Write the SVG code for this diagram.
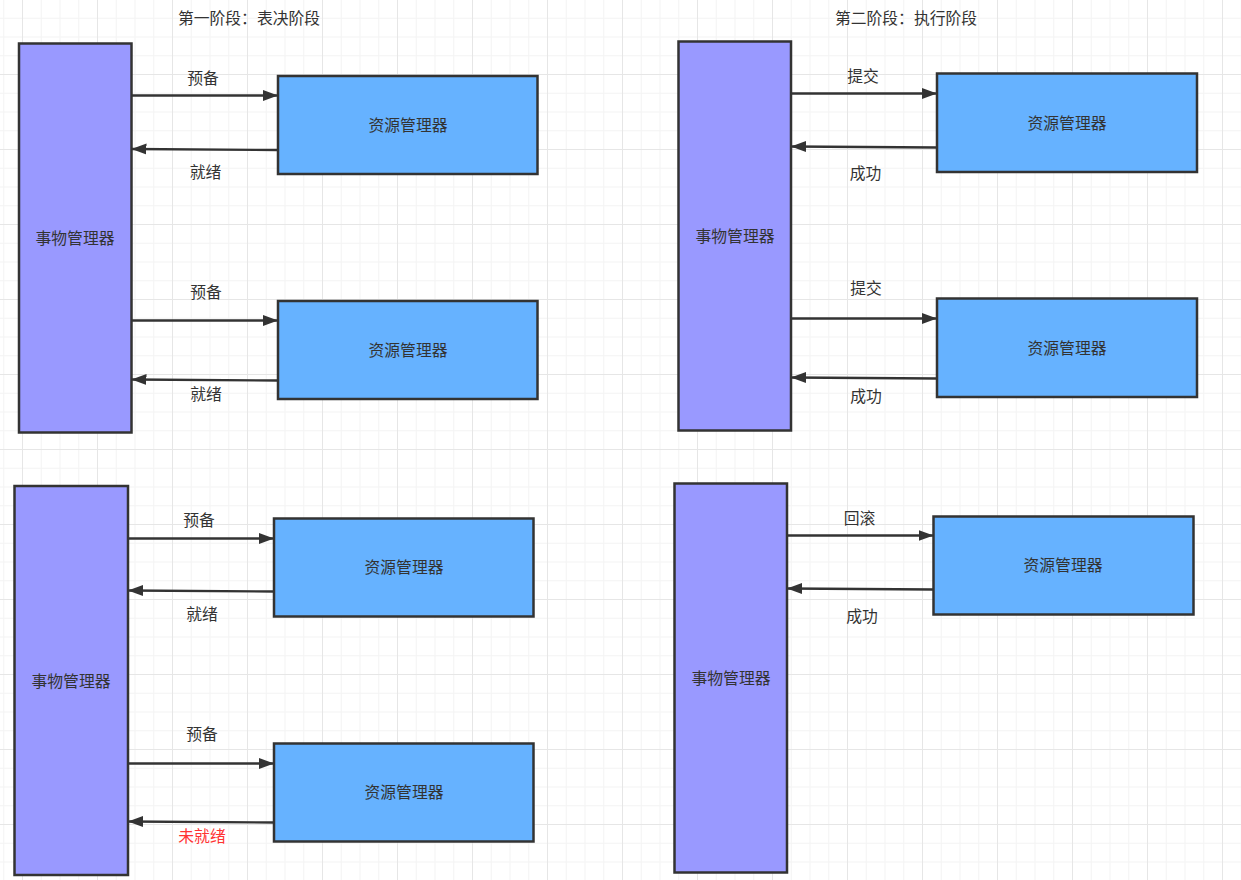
<svg xmlns="http://www.w3.org/2000/svg" width="1241" height="880" viewBox="0 0 1241 880">
<style>
.tm{fill:#9999ff;stroke:#333;stroke-width:2.5}
.rm{fill:#66b2ff;stroke:#333;stroke-width:2.5}
.t{font-family:"Noto Sans CJK SC","Liberation Sans",sans-serif;font-size:15.8px;fill:#333;text-anchor:middle;dominant-baseline:central}
.red{fill:#ff3333}
.c{stroke:#333;stroke-width:2.4;fill:none;marker-end:url(#ah)}
</style>
<defs>
<pattern id="grid" patternUnits="userSpaceOnUse" x="22" y="-1" width="75" height="75">
<rect x="18.75" y="0" width="1" height="75" fill="#f3f3f3"/>
<rect x="37.5" y="0" width="1" height="75" fill="#f3f3f3"/>
<rect x="56.25" y="0" width="1" height="75" fill="#f3f3f3"/>
<rect x="0" y="18.75" width="75" height="1" fill="#f3f3f3"/>
<rect x="0" y="37.5" width="75" height="1" fill="#f3f3f3"/>
<rect x="0" y="56.25" width="75" height="1" fill="#f3f3f3"/>
<rect x="0" y="0" width="1" height="75" fill="#e6e6e6"/>
<rect x="0" y="0" width="75" height="1" fill="#e6e6e6"/>
</pattern>
<marker id="ah" markerUnits="userSpaceOnUse" markerWidth="16" markerHeight="12" viewBox="0 0 16 12" refX="15" refY="6" orient="auto">
<path d="M0,0.5 L15,6 L0,11.5 Z" fill="#333"/>
</marker>
</defs>
<rect width="1241" height="880" fill="#fff"/>
<rect width="1241" height="880" fill="url(#grid)"/>

<g id="titles">
<text class="t" x="249" y="17.5">第一阶段：表决阶段</text>
<text class="t" x="906" y="17.5">第二阶段：执行阶段</text>
</g>

<!-- Panel 1 -->
<g id="tm1"><rect class="tm" x="19" y="43.5" width="112.5" height="389"/><text class="t" x="75" y="237">事物管理器</text></g>
<g id="rm1a"><rect class="rm" x="278" y="76" width="259.5" height="98"/><text class="t" x="408" y="124">资源管理器</text></g>
<g id="rm1b"><rect class="rm" x="278" y="301" width="259.5" height="98"/><text class="t" x="408" y="349">资源管理器</text></g>

<!-- Panel 2 -->
<g id="tm2"><rect class="tm" x="678.5" y="41.5" width="112.5" height="389"/><text class="t" x="735" y="235">事物管理器</text></g>
<g id="rm2a"><rect class="rm" x="937" y="73.5" width="260" height="98.5"/><text class="t" x="1067" y="122">资源管理器</text></g>
<g id="rm2b"><rect class="rm" x="937" y="298.5" width="260" height="98.5"/><text class="t" x="1067" y="347">资源管理器</text></g>

<!-- Panel 3 -->
<g id="tm3"><rect class="tm" x="14.5" y="486" width="113.5" height="389"/><text class="t" x="71" y="680">事物管理器</text></g>
<g id="rm3a"><rect class="rm" x="274" y="518.5" width="259.5" height="98"/><text class="t" x="404" y="566.5">资源管理器</text></g>
<g id="rm3b"><rect class="rm" x="274" y="743.5" width="259.5" height="98"/><text class="t" x="404" y="791.5">资源管理器</text></g>

<!-- Panel 4 -->
<g id="tm4"><rect class="tm" x="674.5" y="483.5" width="112.5" height="389"/><text class="t" x="731" y="677">事物管理器</text></g>
<g id="rm4"><rect class="rm" x="933.5" y="516.5" width="260" height="98"/><text class="t" x="1063" y="564.5">资源管理器</text></g>

<g id="connectors">
<path class="c" d="M131.5,95.5 L278,95.5"/>
<path class="c" d="M278,150 L131.5,149"/>
<path class="c" d="M131.5,320.5 L278,320.5"/>
<path class="c" d="M278,380.5 L131.5,379.5"/>

<path class="c" d="M791,93.5 L937,93.5"/>
<path class="c" d="M937,147.5 L791,146.5"/>
<path class="c" d="M791,318.5 L937,318.5"/>
<path class="c" d="M937,378.5 L791,377.5"/>

<path class="c" d="M128,538.5 L274,538.5"/>
<path class="c" d="M274,591.5 L128,590.5"/>
<path class="c" d="M128,763.5 L274,763.5"/>
<path class="c" d="M274,822.5 L128,821.5"/>

<path class="c" d="M787,535.5 L933.5,535.5"/>
<path class="c" d="M933.5,589.5 L787,588.5"/>
</g>

<g id="labels">
<text class="t" x="203" y="77">预备</text>
<text class="t" x="205.5" y="171.5">就绪</text>
<text class="t" x="206" y="291.5">预备</text>
<text class="t" x="206" y="393">就绪</text>

<text class="t" x="863" y="75">提交</text>
<text class="t" x="865.5" y="172.5">成功</text>
<text class="t" x="866" y="287.5">提交</text>
<text class="t" x="866" y="395">成功</text>

<text class="t" x="199" y="519">预备</text>
<text class="t" x="202" y="613">就绪</text>
<text class="t" x="202" y="733">预备</text>
<text class="t red" x="202" y="835">未就绪</text>

<text class="t" x="859.5" y="517.5">回滚</text>
<text class="t" x="862" y="615.5">成功</text>
</g>
</svg>
